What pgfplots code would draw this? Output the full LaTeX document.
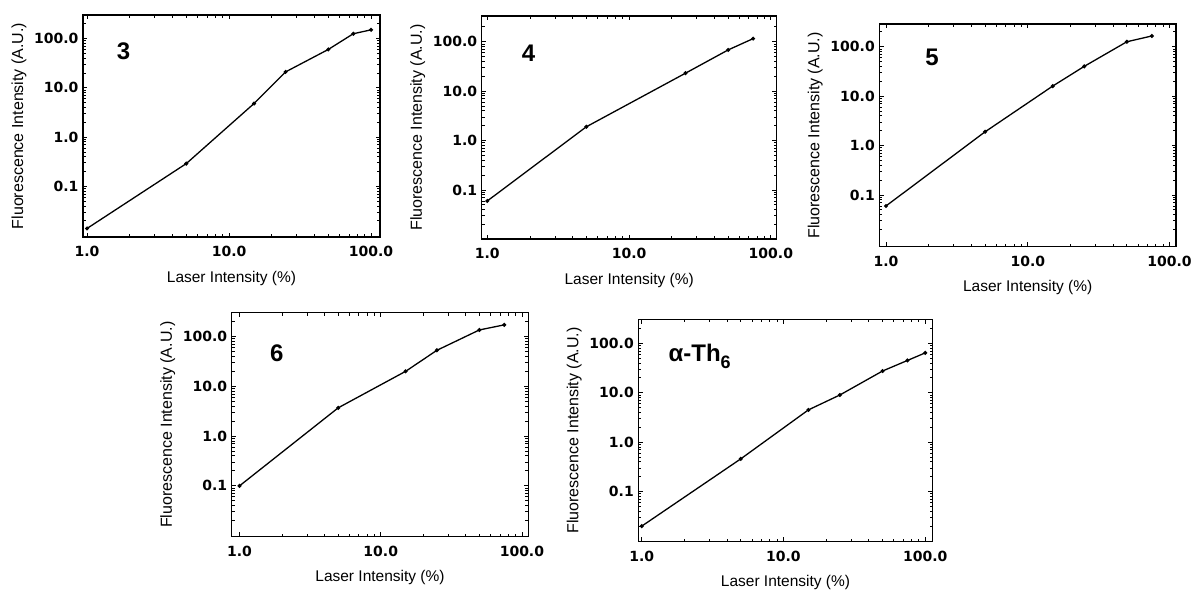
\documentclass[border=0pt]{standalone}
\usepackage{fontspec}
\setmainfont{Liberation Sans}
\newfontfamily\tickfont{DejaVu Sans}
\usepackage{pgfplots}
\pgfplotsset{compat=1.18}

\pgfplotsset{
  fluoaxis/.style={
    scale only axis,
    anchor=south west,
    axis line style={line width=1.4pt},
    tick style={black, line width=0.8pt},
    major tick length=4.5pt,
    minor tick length=3pt,
    tick align=inside,
    xtick={1,10,100}, xticklabels={1.0,10.0,100.0},
    ytick={0.1,1,10,100}, yticklabels={0.1,1.0,10.0,100.0},
    minor xtick={2,3,4,5,6,7,8,9,20,30,40,50,60,70,80,90},
    minor ytick={0.02,0.03,0.04,0.05,0.06,0.07,0.08,0.09,0.2,0.3,0.4,0.5,0.6,0.7,0.8,0.9,2,3,4,5,6,7,8,9,20,30,40,50,60,70,80,90,200},
    ticklabel style={font=\tickfont\fontsize{14}{14}\selectfont\bfseries},
    xticklabel style={yshift=-6pt},
    yticklabel style={xshift=-1pt},
    xlabel={Laser Intensity (\%)},
    ylabel={Fluorescence Intensity (A.U.)},
    every axis x label/.style={at={(axis description cs:0.5,0)}, yshift=-41pt,
      anchor=center, font=\fontsize{15.5}{15.5}\selectfont},
    every axis y label/.style={at={(axis description cs:0,0.5)}, xshift=-64pt,
      rotate=90, anchor=center, font=\fontsize{16}{16}\selectfont},
  },
}
\tikzset{paneltag/.style={font=\fontsize{24}{24}\selectfont\bfseries, anchor=west}}

\begin{document}
\begin{tikzpicture}
\useasboundingbox (0pt,0pt) rectangle (1192pt,590pt);

% panel 3
\begin{loglogaxis}[fluoaxis, at={(83pt,353pt)}, width=297pt, height=222pt,
  xmin=0.937, xmax=115.6, ymin=0.0094, ymax=300]
\addplot[black, line width=1.3pt, mark=*, mark size=1.3pt] coordinates {(1,0.014)(5,0.29)(15,4.8)(25,21)(50,60)(75,125)(100,150)};
\node[paneltag] at (rel axis cs:0.102,0.835) {3};
\end{loglogaxis}

% panel 4
\begin{loglogaxis}[fluoaxis, at={(481.7pt,351pt)}, width=295pt, height=223pt,
  xmin=0.913, xmax=110, ymin=0.0102, ymax=330]
\addplot[black, line width=1.3pt, mark=*, mark size=1.3pt] coordinates {(1,0.06)(5,1.9)(25,23)(50,68)(75,115)};
\node[paneltag] at (rel axis cs:0.124,0.833) {4};
\end{loglogaxis}

% panel 5
\begin{loglogaxis}[fluoaxis, at={(879.3pt,343.3pt)}, width=296.7pt, height=222.7pt,
  xmin=0.897, xmax=111, ymin=0.009, ymax=288]
\addplot[black, line width=1.3pt, mark=*, mark size=1.3pt] coordinates {(1,0.06)(5,1.9)(15,16)(25,40)(50,126)(75,165)};
\node[paneltag] at (rel axis cs:0.143,0.85) {5};
\end{loglogaxis}

% panel 6
\begin{loglogaxis}[fluoaxis, at={(231.7pt,53.3pt)}, width=296.6pt, height=224pt,
  xmin=0.88, xmax=111, ymin=0.0095, ymax=302]
\addplot[black, line width=1.3pt, mark=*, mark size=1.3pt] coordinates {(1,0.1)(5,3.7)(15,20)(25,53)(50,136)(75,172)};
\node[paneltag] at (rel axis cs:0.118,0.82) {6};
\end{loglogaxis}

% panel alpha-Th6
\begin{loglogaxis}[fluoaxis, at={(638.3pt,48.3pt)}, width=294.4pt, height=222.4pt,
  xmin=0.946, xmax=113, ymin=0.0097, ymax=306]
\addplot[black, line width=1.3pt, mark=*, mark size=1.3pt] coordinates {(1,0.02)(5,0.46)(15,4.5)(25,9)(50,27.5)(75,45)(100,64)};
\node[paneltag, anchor=base west] at (rel axis cs:0.091,0.81) {α-Th\raisebox{-7pt}{\fontsize{18}{18}\selectfont 6}};
\end{loglogaxis}
\end{tikzpicture}
\end{document}
